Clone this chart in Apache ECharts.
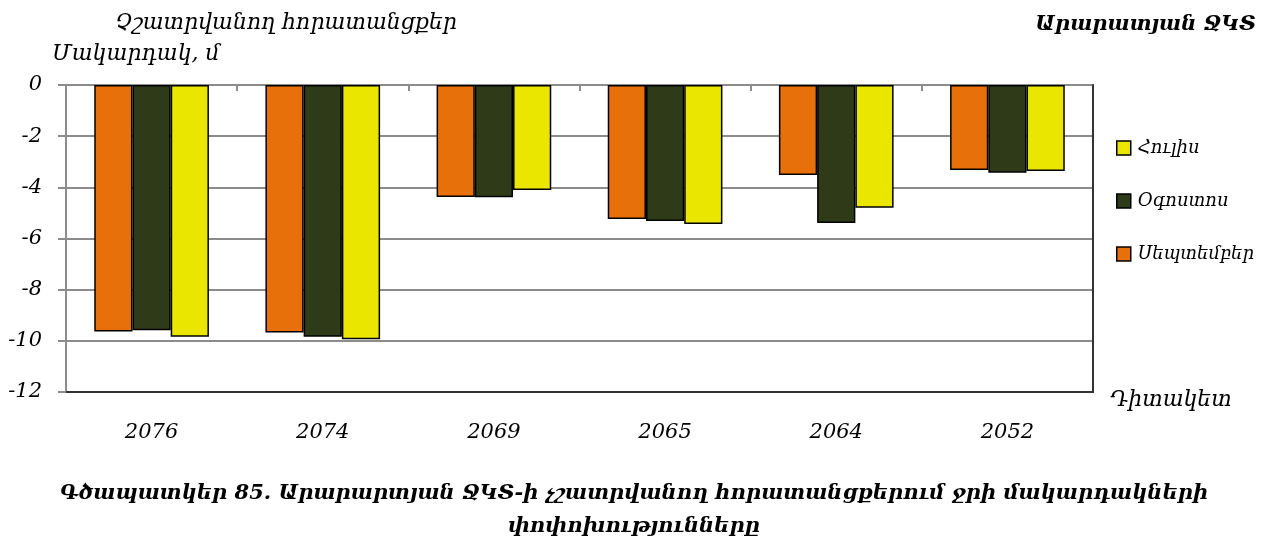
<!DOCTYPE html>
<html>
<head>
<meta charset="utf-8">
<script src="https://cdn.jsdelivr.net/npm/echarts@6/dist/echarts.min.js"></script>
<style>
html,body{margin:0;padding:0;background:#fff;}
#chart{width:1268px;height:549px;}
</style>
</head>
<body>
<div id="chart"></div>
<script>
const categories = ['2076', '2074', '2069', '2065', '2064', '2052'];
const september = [-9.64, -9.67, -4.38, -5.24, -3.52, -3.32];
const august = [-9.59, -9.84, -4.39, -5.32, -5.39, -3.43];
const july = [-9.84, -9.94, -4.10, -5.43, -4.80, -3.36];
const yTicks = { min: -12, max: 0, interval: 2 };
const legendOrder = ['Հուլիս', 'Օգոստոս', 'Սեպտեմբեր'];

const FONT = '"DejaVu Serif", "DejaVu Sans", serif';
const chart = echarts.init(document.getElementById('chart'), null, { renderer: 'canvas' });

function barSeries(name, data, color) {
  return {
    name: name, type: 'bar', data: data,
    barGap: '0%', barCategoryGap: '33%',
    itemStyle: { color: color, borderColor: '#000', borderWidth: 1.5 }
  };
}

chart.setOption({
  animation: false,
  backgroundColor: '#fff',
  textStyle: { fontFamily: FONT },
  grid: { left: 66, right: 175, top: 85, bottom: 157, containLabel: false },
  legend: {
    orient: 'vertical', left: 1111, top: 134, itemWidth: 14, itemHeight: 14, itemGap: 35,
    data: legendOrder,
    icon: 'rect',
    itemStyle: { borderColor: '#000', borderWidth: 1.5 },
    textStyle: { fontFamily: FONT, fontStyle: 'italic', fontSize: 18, color: '#000', padding: [0, 0, 0, 2] }
  },
  xAxis: [
    {
      type: 'category', data: categories, position: 'bottom',
      axisLine: { show: true, onZero: false, lineStyle: { color: '#333', width: 2 } },
      axisTick: { show: false },
      axisLabel: { fontFamily: FONT, fontStyle: 'italic', fontSize: 21, color: '#000', margin: 30 }
    },
    {
      type: 'category', data: categories, position: 'top', z: 1,
      axisLine: { show: true, onZero: false, lineStyle: { color: '#8c8c8c', width: 2 } },
      axisTick: { show: true, inside: true, length: 6, lineStyle: { color: '#8c8c8c', width: 2 } },
      axisLabel: { show: false }
    }
  ],
  yAxis: [
    {
      type: 'value', min: yTicks.min, max: yTicks.max, interval: yTicks.interval, position: 'left',
      axisLine: { show: true, lineStyle: { color: '#8c8c8c', width: 2 } },
      axisTick: { show: true, length: 8, lineStyle: { color: '#8c8c8c', width: 2 } },
      axisLabel: { fontFamily: FONT, fontStyle: 'italic', fontSize: 21, color: '#000', margin: 24 },
      splitLine: { show: true, lineStyle: { color: '#8c8c8c', width: 2 } }
    },
    {
      type: 'value', min: yTicks.min, max: yTicks.max, interval: yTicks.interval, position: 'right', z: 20,
      axisLine: { show: true, lineStyle: { color: '#333', width: 2 } },
      axisTick: { show: false }, axisLabel: { show: false }, splitLine: { show: false }
    }
  ],
  series: [
    barSeries('Սեպտեմբեր', september, '#e8700b'),
    barSeries('Օգոստոս', august, '#2f3a19'),
    barSeries('Հուլիս', july, '#eae600')
  ],
  graphic: [
    { type: 'text', left: 115, top: 12, style: { text: 'Չշատրվանող հորատանցքեր', font: 'italic 22px ' + FONT, fill: '#000' } },
    { type: 'text', left: 52, top: 43, style: { text: 'Մակարդակ, մ', font: 'italic 22px ' + FONT, fill: '#000' } },
    { type: 'text', right: 12, top: 14, style: { text: 'Արարատյան ՋԿՏ', font: 'italic bold 21px ' + FONT, fill: '#000' } },
    { type: 'text', left: 1110, top: 389, style: { text: 'Դիտակետ', font: 'italic 22px ' + FONT, fill: '#000' } },
    { type: 'text', left: 'center', top: 483, style: { text: 'Գծապատկեր 85. Արարարտյան ՋԿՏ-ի չշատրվանող հորատանցքերում ջրի մակարդակների', font: 'italic bold 21px ' + FONT, fill: '#000' } },
    { type: 'text', left: 'center', top: 516, style: { text: 'փոփոխությունները', font: 'italic bold 21px ' + FONT, fill: '#000' } }
  ]
});
</script>
</body>
</html>
